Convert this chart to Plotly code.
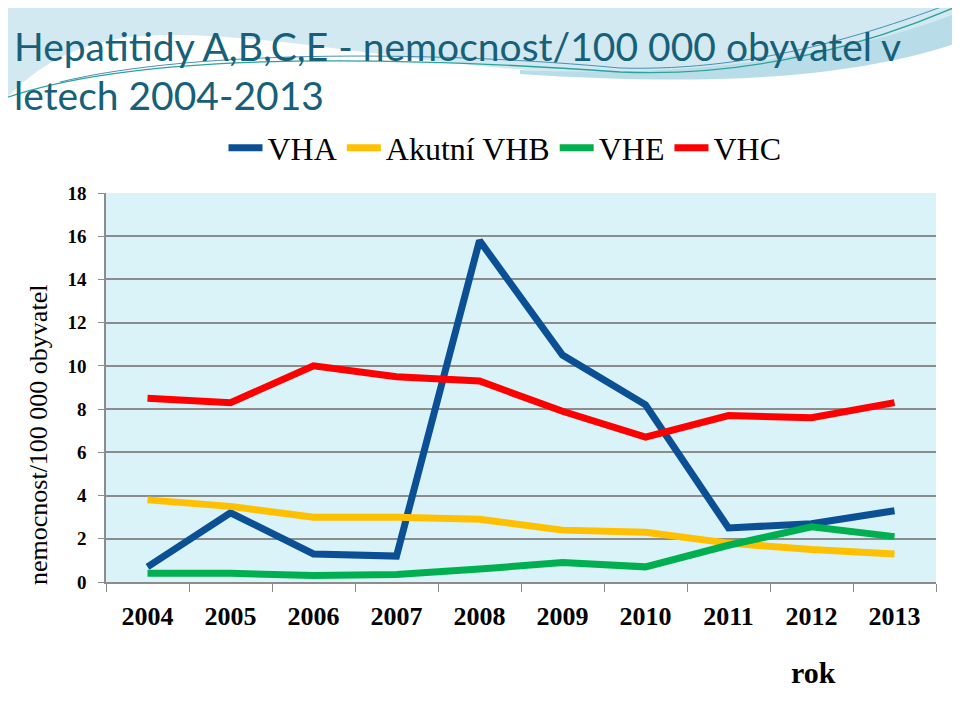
import plotly.graph_objects as go

years = ["2004", "2005", "2006", "2007", "2008", "2009", "2010", "2011", "2012", "2013"]
vha = [0.7, 3.2, 1.3, 1.2, 15.8, 10.5, 8.2, 2.5, 2.7, 3.3]
vhb = [3.8, 3.5, 3.0, 3.0, 2.9, 2.4, 2.3, 1.8, 1.5, 1.3]
vhe = [0.4, 0.4, 0.3, 0.35, 0.6, 0.9, 0.7, 1.7, 2.55, 2.1]
vhc = [8.5, 8.3, 10.0, 9.5, 9.3, 7.9, 6.7, 7.7, 7.6, 8.3]
series_names = ["VHA", "Akutní VHB", "VHE", "VHC"]
series_colors = ["#0B4F94", "#FFC000", "#00B050", "#FF0000"]
y_ticks = [0, 2, 4, 6, 8, 10, 12, 14, 16, 18]

OFF = 8  # page body margin
W, H = 960 - OFF, 720 - OFF
# plot area in screen pixels
L, R, T, B = 106, 936, 193, 582


def px(x):
    return (x - L) / (R - L)


def py(y):
    return (B - y) / (B - T)


def path(cmds):
    out = []
    for c in cmds:
        if isinstance(c, str):
            out.append(c)
        else:
            out.append("%.4f,%.4f" % (px(c[0]), py(c[1])))
    return " ".join(out)


fig = go.Figure()
for name, vals, col in zip(series_names, [vha, vhb, vhe, vhc], series_colors):
    fig.add_trace(go.Scatter(x=years, y=vals, name=name, mode="lines",
                             line=dict(color=col, width=7)))

shapes = [
    dict(type="path", xref="paper", yref="paper", layer="below",
         path=path(["M", (0, 0), "L", (960, 0), "L", (960, 22), "C", (820, 68), (680, 76), (560, 72),
                    "C", (420, 66), (250, 28), (140, 36), "C", (70, 42), (30, 72), (0, 105), "Z"]),
         fillcolor="#D3E9F1", line=dict(width=0)),
    dict(type="path", xref="paper", yref="paper", layer="below",
         path=path(["M", (520, 70), "C", (700, 78), (850, 55), (960, 12), "L", (960, 42),
                    "C", (850, 80), (700, 86), (520, 74), "Z"]),
         fillcolor="#B9DDE8", line=dict(width=0)),
    dict(type="path", xref="paper", yref="paper", layer="below",
         path=path(["M", (760, 0), "C", (850, 10), (920, 6), (960, 0), "Z"]),
         fillcolor="#F2F9FB", line=dict(width=0)),
    dict(type="path", xref="paper", yref="paper", layer="below",
         path=path(["M", (0, 100), "C", (150, 45), (450, 60), (620, 72), "C", (760, 78), (880, 40), (960, 5)]),
         line=dict(color="#2AA39B", width=1.3)),
    dict(type="path", xref="paper", yref="paper", layer="below",
         path=path(["M", (60, 82), "C", (200, 48), (450, 52), (620, 68), "C", (760, 72), (880, 30), (960, 0)]),
         line=dict(color="#4A8FB5", width=1)),
]

annotations = [
    dict(text="Hepatitidy A,B,C,E - nemocnost/100 000 obyvatel v", xref="paper", yref="paper",
         x=px(12), y=py(46), xanchor="left", yanchor="middle", showarrow=False,
         font=dict(family="Lato", size=39, color="#17607A")),
    dict(text="letech 2004-2013", xref="paper", yref="paper",
         x=px(12), y=py(95), xanchor="left", yanchor="middle", showarrow=False,
         font=dict(family="Lato", size=39, color="#17607A")),
    dict(text="nemocnost/100 000 obyvatel", xref="paper", yref="paper",
         x=px(38), y=py(435), xanchor="center", yanchor="middle", textangle=-90, showarrow=False,
         font=dict(family="Liberation Serif", size=26, color="#000000")),
    dict(text="<b>rok</b>", xref="paper", yref="paper",
         x=px(813), y=py(672), xanchor="center", yanchor="middle", showarrow=False,
         font=dict(family="Liberation Serif", size=30, color="#000000")),
]

fig.update_layout(
    width=W, height=H,
    margin=dict(l=L - OFF, r=960 - R, t=T - OFF, b=720 - B),
    paper_bgcolor="#FFFFFF",
    plot_bgcolor="#DAF3F8",
    showlegend=True,
    legend=dict(orientation="h", x=px(505), y=py(148), xanchor="center", yanchor="middle",
                font=dict(family="Liberation Serif", size=32, color="#000000"),
                bgcolor="rgba(0,0,0,0)", itemwidth=34, tracegroupgap=0),
    shapes=shapes,
    annotations=annotations,
    xaxis=dict(type="category", categoryorder="array", categoryarray=years, range=[-0.5, 9.5],
               showgrid=False, showline=True, linecolor="#8C8C8C", linewidth=1.5,
               ticks="outside", tickson="boundaries", ticklen=8, tickcolor="#8C8C8C",
               tickfont=dict(family="Liberation Serif", size=26, color="#000000"),
               tickprefix="<b>", ticksuffix="</b>", ticklabelstandoff=10, zeroline=False),
    yaxis=dict(range=[0, 18], tickvals=y_ticks, ticktext=["<b>%d</b>" % v for v in y_ticks],
               showgrid=True, gridcolor="#8C8C8C", gridwidth=1.5,
               showline=True, linecolor="#8C8C8C", linewidth=1.5,
               ticks="outside", ticklen=6, tickcolor="#8C8C8C",
               tickfont=dict(family="Liberation Serif", size=19, color="#000000"),
               ticklabelstandoff=8, zeroline=False),
)

fig.write_html("out.html")
